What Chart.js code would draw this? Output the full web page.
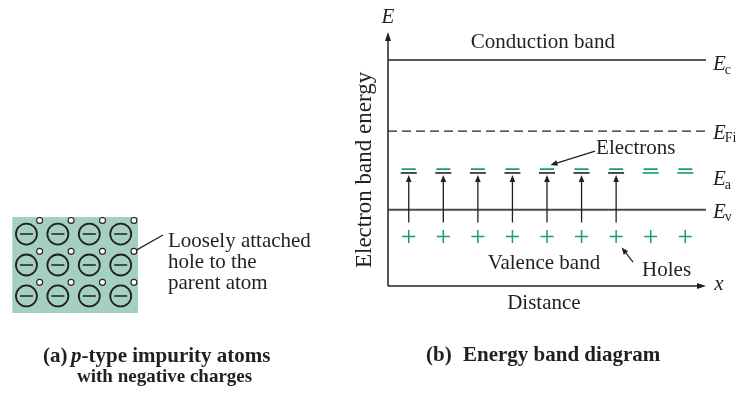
<!DOCTYPE html>
<html>
<head>
<meta charset="utf-8">
<script src="https://cdn.jsdelivr.net/npm/chart.js@4"></script>
<style>
  html, body { margin: 0; padding: 0; background: #fff; }
  #wrap { position: relative; width: 739px; height: 393px; }
  canvas { position: absolute; top: 0; }
</style>
</head>
<body>
<div id="wrap">
  <canvas id="atoms" width="340" height="393" style="left:0"></canvas>
  <canvas id="bands" width="399" height="393" style="left:340px"></canvas>
</div>
<script>
// ---- data ----
// acceptor atoms in the crystal, column / row index
var atomCols = [0, 1, 2, 3];
var atomRows = [0, 1, 2];

// energy levels (arbitrary units) and distance positions
var levelNames = ['c', 'Fi', 'a', 'v'];
var levelValues = [8.9, 6.1, 4.45, 3.0];
var sites = [0.6, 1.6, 2.6, 3.6, 4.6, 5.6, 6.6, 7.6, 8.6];
var ionized = [true, true, true, true, true, true, true, false, false];
var electronLevel = 4.6;
var holeLevel = 1.95;
var excitedFrom = 2.5;

var green = '#1b9a7c';
var ink = '#231f20';
var serif = '"Liberation Serif", "DejaVu Serif", serif';

function font(size, style) {
  return (style || '') + ' ' + size + 'px ' + serif;
}

function arrowHead(ctx, x1, y1, x2, y2, len, wid) {
  var a = Math.atan2(y2 - y1, x2 - x1);
  ctx.beginPath();
  ctx.moveTo(x2, y2);
  ctx.lineTo(x2 - len * Math.cos(a) + wid * Math.sin(a), y2 - len * Math.sin(a) - wid * Math.cos(a));
  ctx.lineTo(x2 - len * Math.cos(a) - wid * Math.sin(a), y2 - len * Math.sin(a) + wid * Math.cos(a));
  ctx.closePath();
  ctx.fill();
}

function arrow(ctx, x1, y1, x2, y2) {
  var d = Math.hypot(x2 - x1, y2 - y1);
  ctx.beginPath();
  ctx.moveTo(x1, y1);
  ctx.lineTo(x2 - 4 * (x2 - x1) / d, y2 - 4 * (y2 - y1) / d);
  ctx.stroke();
  arrowHead(ctx, x1, y1, x2, y2, 7, 2.8);
}

// ---- (a) impurity atoms ----
var atomPts = [], holePts = [];
atomRows.forEach(function (r) {
  atomCols.forEach(function (c) {
    atomPts.push({ x: c, y: r });
    holePts.push({ x: c + 0.42, y: r - 0.44 });
  });
});

var atomsExtra = {
  id: 'atomsExtra',
  beforeDatasetsDraw: function (chart) {
    var a = chart.chartArea, ctx = chart.ctx;
    ctx.save();
    ctx.fillStyle = '#a4cfc3';
    ctx.fillRect(a.left, a.top, a.right - a.left, a.bottom - a.top);
    ctx.restore();
  },
  afterDraw: function (chart) {
    var ctx = chart.ctx, xs = chart.scales.x, ys = chart.scales.y, a = chart.chartArea;
    ctx.save();
    // leader line from a hole to the note
    ctx.strokeStyle = ink;
    ctx.lineWidth = 1.2;
    ctx.beginPath();
    ctx.moveTo(xs.getPixelForValue(3.5), ys.getPixelForValue(0.52));
    ctx.lineTo(a.right + 25, a.top + 18);
    ctx.stroke();

    ctx.fillStyle = ink;
    ctx.textBaseline = 'middle';
    ctx.textAlign = 'left';
    ctx.font = font(21);
    ['Loosely attached', 'hole to the', 'parent atom'].forEach(function (t, i) {
      ctx.fillText(t, a.right + 30, a.top + 24 + i * 21);
    });

    // caption
    ctx.font = font(21, 'bold');
    ctx.fillText('(a)', 43, 357);
    ctx.font = font(21, 'italic bold');
    ctx.fillText('p', 71, 357);
    var pw = ctx.measureText('p').width;
    ctx.font = font(21, 'bold');
    ctx.fillText('-type impurity atoms', 71 + pw, 357);
    ctx.font = font(19, 'bold');
    ctx.fillText('with negative charges', 77, 377);
    ctx.restore();
  }
};

new Chart(document.getElementById('atoms').getContext('2d'), {
  type: 'scatter',
  data: {
    datasets: [
      {
        label: 'atoms',
        data: atomPts,
        pointStyle: 'circle',
        pointRadius: 10.5,
        backgroundColor: 'rgba(0,0,0,0)',
        borderColor: ink,
        borderWidth: 1.8
      },
      {
        label: 'charge',
        data: atomPts,
        pointStyle: 'line',
        pointRadius: 6.5,
        borderColor: ink,
        borderWidth: 1.6
      },
      {
        label: 'holes',
        data: holePts,
        pointStyle: 'circle',
        pointRadius: 3,
        backgroundColor: '#ffffff',
        borderColor: ink,
        borderWidth: 1.1
      }
    ]
  },
  options: {
    responsive: false,
    animation: false,
    events: [],
    layout: { padding: { left: 10, right: 202, top: 217, bottom: 80 } },
    scales: {
      x: { type: 'linear', display: false, min: -0.45, max: 3.55 },
      y: { type: 'linear', display: false, min: -0.55, max: 2.55, reverse: true }
    },
    plugins: { legend: { display: false }, tooltip: { enabled: false } }
  },
  plugins: [atomsExtra]
});

// ---- (b) energy band diagram ----
function levelLine(v) {
  return [{ x: 0, y: v }, { x: 9.2, y: v }];
}

var bandsExtra = {
  id: 'bandsExtra',
  afterDraw: function (chart) {
    var ctx = chart.ctx, xs = chart.scales.x, ys = chart.scales.y, a = chart.chartArea;
    function px(v) { return xs.getPixelForValue(v); }
    function py(v) { return ys.getPixelForValue(v); }
    ctx.save();
    ctx.strokeStyle = ink;
    ctx.fillStyle = ink;
    ctx.lineWidth = 1.5;

    // axes with arrows
    ctx.beginPath();
    ctx.moveTo(a.left, a.bottom);
    ctx.lineTo(a.left, a.top + 5);
    ctx.moveTo(a.left, a.bottom);
    ctx.lineTo(a.right - 5, a.bottom);
    ctx.stroke();
    arrowHead(ctx, a.left, a.bottom, a.left, a.top, 9, 3);
    arrowHead(ctx, a.left, a.bottom, a.right, a.bottom, 9, 3);

    // transitions valence -> acceptor level
    ctx.lineWidth = 1.3;
    sites.forEach(function (s, i) {
      if (!ionized[i]) return;
      arrow(ctx, px(s), py(excitedFrom), px(s), py(levelValues[2]) + 2);
    });

    // callouts
    ctx.lineWidth = 1.2;
    arrow(ctx, px(5.99), py(5.31), px(4.7), py(4.76));
    arrow(ctx, px(7.09), py(0.94), px(6.76), py(1.52));

    ctx.textBaseline = 'middle';
    ctx.textAlign = 'center';
    ctx.font = font(21);
    ctx.fillText('Conduction band', px(4.48), py(9.57));
    ctx.fillText('Valence band', px(4.51), py(0.9));
    ctx.fillText('Distance', px(4.51), py(-0.67));
    ctx.textAlign = 'left';
    ctx.fillText('Electrons', px(6.02), py(5.43));
    ctx.fillText('Holes', px(7.35), py(0.63));

    // axis symbols
    ctx.font = font(21, 'italic');
    ctx.textAlign = 'center';
    ctx.fillText('E', a.left, py(10.59));
    ctx.fillText('x', a.right + 13, a.bottom - 2);

    // level labels E_c, E_Fi, E_a, E_v
    var offs = [5, 2, 7, 3];
    levelNames.forEach(function (n, i) {
      var y = py(levelValues[i]) + offs[i];
      ctx.textAlign = 'left';
      ctx.font = font(21, 'italic');
      ctx.fillText('E', a.right + 7, y);
      var w = ctx.measureText('E').width;
      ctx.font = font(14);
      ctx.fillText(n, a.right + 7 + w - 1, y + 5);
    });

    // vertical axis title
    ctx.save();
    ctx.translate(px(-0.67), py(4.57));
    ctx.rotate(-Math.PI / 2);
    ctx.textAlign = 'center';
    ctx.font = font(23);
    ctx.fillText('Electron band energy', 0, 0);
    ctx.restore();

    // caption
    ctx.font = font(21, 'bold');
    ctx.textAlign = 'left';
    ctx.fillText('(b)', 86, py(-2.72));
    ctx.fillText('Energy band diagram', 123, py(-2.72));
    ctx.restore();
  }
};

new Chart(document.getElementById('bands').getContext('2d'), {
  type: 'scatter',
  data: {
    datasets: [
      {
        label: 'Ec',
        data: levelLine(levelValues[0]),
        showLine: true,
        borderColor: ink,
        borderWidth: 1.5,
        pointRadius: 0
      },
      {
        label: 'EFi',
        data: levelLine(levelValues[1]),
        showLine: true,
        borderColor: ink,
        borderWidth: 1.3,
        borderDash: [9, 5],
        pointRadius: 0
      },
      {
        label: 'Ev',
        data: levelLine(levelValues[3]),
        showLine: true,
        borderColor: '#4a4a4a',
        borderWidth: 2,
        pointRadius: 0
      },
      {
        label: 'Ea',
        data: sites.map(function (s) { return { x: s, y: levelValues[2] }; }),
        pointStyle: 'line',
        pointRadius: 8,
        borderColor: ionized.map(function (f) { return f ? ink : green; }),
        borderWidth: 1.6
      },
      {
        label: 'electrons',
        data: sites.map(function (s) { return { x: s, y: electronLevel }; }),
        pointStyle: 'line',
        pointRadius: 7,
        borderColor: green,
        borderWidth: 1.8
      },
      {
        label: 'holes',
        data: sites.map(function (s) { return { x: s, y: holeLevel }; }),
        pointStyle: 'cross',
        pointRadius: 6.5,
        borderColor: green,
        borderWidth: 1.5
      }
    ]
  },
  options: {
    responsive: false,
    animation: false,
    events: [],
    layout: { padding: { left: 48, right: 33, top: 32, bottom: 107 } },
    scales: {
      x: { type: 'linear', display: false, min: 0, max: 9.2 },
      y: { type: 'linear', display: false, min: 0, max: 10 }
    },
    plugins: { legend: { display: false }, tooltip: { enabled: false } }
  },
  plugins: [bandsExtra]
});
</script>
</body>
</html>
